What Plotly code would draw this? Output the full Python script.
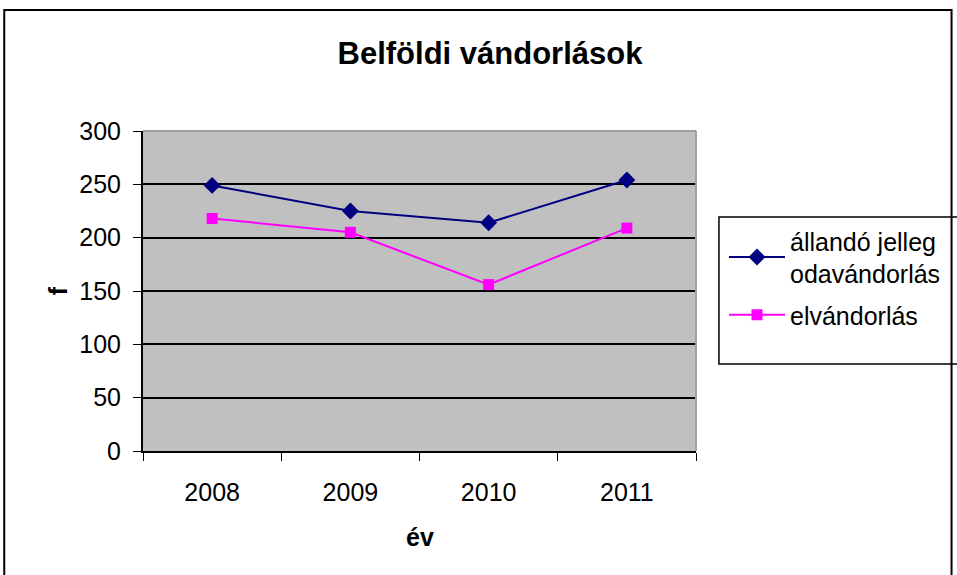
import plotly.graph_objects as go

years = ["2008", "2009", "2010", "2011"]
odavandorlas = [249, 225, 214, 254]
elvandorlas = [218, 205, 156, 209]
series_names = ["állandó jelleg<br>odavándorlás", "elvándorlás"]
y_ticks = [0, 50, 100, 150, 200, 250, 300]

FONT = "Liberation Sans, Arial, sans-serif"
FS = 25
W, H = 957, 575
L, R, T, B = 143, 697, 131, 451  # plot area in px


def px(x):
    return (x - L) / (R - L)


def py(y):
    return (B - y) / (B - T)


fig = go.Figure()
fig.add_trace(go.Scatter(
    x=years, y=odavandorlas, name=series_names[0], mode="lines+markers",
    legendgroup="a",
    line=dict(color="#000080", width=2),
    marker=dict(symbol="diamond", size=13, color="#000080"),
))
fig.add_trace(go.Scatter(
    x=years, y=elvandorlas, name=series_names[1], mode="lines+markers",
    legendgroup="b",
    line=dict(color="#FF00FF", width=2),
    marker=dict(symbol="square", size=11, color="#FF00FF"),
))

fig.update_layout(
    width=W, height=H,
    margin=dict(l=L, r=W - R, t=T, b=H - B, pad=0),
    paper_bgcolor="white",
    plot_bgcolor="#C0C0C0",
    font=dict(family=FONT, size=FS, color="black"),
    title=dict(text="<b>Belföldi vándorlások</b>", font=dict(size=31, family=FONT),
               x=490 / W, xanchor="center", xref="container",
               y=1 - 53 / H, yanchor="middle", yref="container"),
    showlegend=True,
    legend=dict(x=px(724), xanchor="left", y=py(218), yanchor="top",
                font=dict(size=FS, family=FONT), bgcolor="rgba(0,0,0,0)",
                traceorder="grouped", tracegroupgap=6, itemwidth=56),
    xaxis=dict(type="category", range=[-0.5, 3.5], showgrid=False,
               showline=True, linecolor="black", linewidth=2,
               ticks="outside", ticklen=8, tickwidth=1, tickcolor="black",
               tickson="boundaries", ticklabelstandoff=18,
               tickfont=dict(size=FS)),
    yaxis=dict(range=[0, 300], tickvals=y_ticks, showgrid=True, gridcolor="black",
               gridwidth=2, showline=True, linecolor="black", linewidth=2,
               ticks="outside", ticklen=8, tickcolor="black", tickwidth=1,
               ticklabelstandoff=7, zeroline=False, tickfont=dict(size=FS)),
    shapes=[
        dict(type="line", xref="paper", yref="paper", x0=0, x1=1, y0=1, y1=1,
             line=dict(color="#A0A0A0", width=2), layer="above"),
        dict(type="line", xref="paper", yref="paper", x0=1, x1=1, y0=0, y1=1,
             line=dict(color="#A0A0A0", width=2), layer="above"),
        dict(type="rect", xref="paper", yref="paper",
             x0=px(4), x1=px(953), y0=py(600), y1=py(10),
             line=dict(color="black", width=2), fillcolor="rgba(0,0,0,0)"),
        dict(type="rect", xref="paper", yref="paper",
             x0=px(720), x1=px(960), y0=py(364), y1=py(217),
             line=dict(color="black", width=1.5), fillcolor="rgba(0,0,0,0)"),
    ],
    annotations=[
        dict(text="<b>f</b>", xref="paper", yref="paper", x=px(58), y=py(291),
             showarrow=False, textangle=-90, font=dict(size=FS, family=FONT),
             xanchor="center", yanchor="middle"),
        dict(text="<b>év</b>", xref="paper", yref="paper", x=px(420), y=py(537),
             showarrow=False, font=dict(size=FS, family=FONT),
             xanchor="center", yanchor="middle"),
    ],
)

fig.write_html("out.html", config={"displayModeBar": False},
               post_script="document.body.style.margin='0px';")
